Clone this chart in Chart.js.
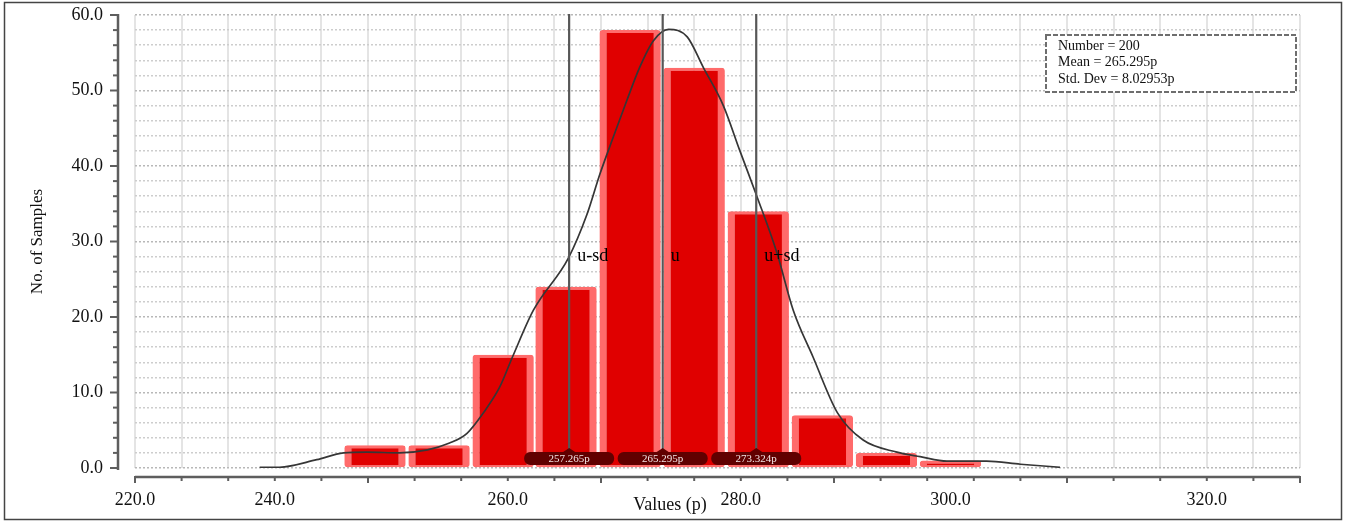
<!DOCTYPE html>
<html>
<head>
<meta charset="utf-8">
<script src="https://cdn.jsdelivr.net/npm/chart.js@4.4.1/dist/chart.umd.min.js"></script>
<style>
  html, body { margin: 0; padding: 0; background: #fff; }
</style>
</head>
<body>
<canvas id="histCanvas" width="1345" height="522"></canvas>
<script>
// histogram bins: centre of each bin and the number of samples in it
var binCenters = [240.6, 246.1, 251.6, 257.0, 262.5, 268.0, 273.5, 279.0, 284.5, 290.0];
var binCounts  = [3, 3, 15, 24, 58, 53, 34, 7, 2, 1];

// fitted density curve
var curveX = [230.7, 232.4, 235.6, 237.9, 239.9, 242.7, 245.1, 247.0, 248.5, 249.9, 251.3, 252.4,
              254.2, 257.2, 258.8, 259.9, 261.0, 262.2, 263.3, 264.5, 265.8, 267.4, 268.8, 270.5,
              271.9, 273.4, 275.1, 276.5, 278.2, 280.3, 282.5, 285.4, 287.4, 289.7, 293.1, 296.0, 299.4];
var curveY = [0.1, 0.1, 1.1, 2.0, 2.1, 2.0, 2.4, 3.3, 4.6, 7.3, 10.7, 14.7,
              20.9, 27.8, 33.6, 38.9, 43.6, 48.6, 53.0, 56.6, 58.1, 57.1, 53.0, 48.0,
              42.1, 35.9, 28.5, 20.9, 14.7, 7.3, 3.7, 2.1, 1.5, 0.9, 0.9, 0.5, 0.1];

// mean and +/- one standard deviation
var markerValues = [257.265, 265.295, 273.324];
var markerNames  = ['u-sd', 'u', 'u+sd'];
var markerTexts  = ['257.265p', '265.295p', '273.324p'];

// summary box
var statLines = ['Number = 200', 'Mean = 265.295p', 'Std. Dev = 8.02953p'];

// axis ticks
var xTickLabels = { 220: '220.0', 232: '240.0', 252: '260.0', 272: '280.0', 290: '300.0', 312: '320.0' };
var xTickValues = [];
for (var i = 220; i <= 320; i += 2) xTickValues.push(i);
var yTickValues = [];
for (var j = 0; j <= 60; j += 2) yTickValues.push(j);

var serif = '"Liberation Serif", "Times New Roman", serif';
Chart.defaults.font.family = serif;
Chart.defaults.color = '#111';

var barPoints = binCenters.map(function (x, k) { return { x: x, y: binCounts[k] }; });
var curvePoints = curveX.map(function (x, k) { return { x: x, y: curveY[k] }; });

function strokeLine(c, x1, y1, x2, y2) {
  c.beginPath();
  c.moveTo(x1, y1);
  c.lineTo(x2, y2);
  c.stroke();
}

// axis lines, mean/sd lines, value tags, stats box and frame
var decorPlugin = {
  id: 'decor',
  afterDraw: function (chart) {
    var c = chart.ctx, a = chart.chartArea;
    var xs = chart.scales.x, ys = chart.scales.y;
    c.save();

    // y axis
    var axX = a.left - 17;
    c.strokeStyle = '#5e5e5e';
    c.lineWidth = 2.5;
    strokeLine(c, axX, a.top - 1, axX, a.bottom + 2);
    c.lineWidth = 2;
    ys.ticks.forEach(function (t) {
      var py = ys.getPixelForValue(t.value);
      var len = t.value % 10 === 0 ? 8 : 5;
      strokeLine(c, axX - len, py, axX, py);
    });

    // x axis
    var axY = a.bottom + 9;
    c.lineWidth = 2.5;
    strokeLine(c, a.left, axY, a.right, axY);
    c.lineWidth = 2;
    xs.ticks.forEach(function (t) {
      if ((t.value - 220) % 4 !== 0) return;
      var px = xs.getPixelForValue(t.value);
      var len = (t.value - 220) % 20 === 0 ? 6 : 4;
      strokeLine(c, px, axY - 1, px, axY + len);
    });

    // mean and sd lines with their names
    c.strokeStyle = '#575757';
    c.lineWidth = 2.2;
    c.font = '18px ' + serif;
    c.fillStyle = '#000';
    c.textAlign = 'left';
    c.textBaseline = 'middle';
    markerValues.forEach(function (v, k) {
      var px = xs.getPixelForValue(v);
      strokeLine(c, px, a.top - 1, px, a.bottom - 14);
      c.fillText(markerNames[k], px + 8, ys.getPixelForValue(28));
    });

    // value tags at the foot of each line
    c.font = '11px ' + serif;
    c.textAlign = 'center';
    markerValues.forEach(function (v, k) {
      var px = xs.getPixelForValue(v);
      var top = a.bottom - 16, w = 90, h = 13, r = 6;
      c.fillStyle = '#610000';
      c.beginPath();
      c.moveTo(px - w / 2 + r, top);
      c.lineTo(px - 6, top);
      c.lineTo(px, top - 4);
      c.lineTo(px + 6, top);
      c.lineTo(px + w / 2 - r, top);
      c.arcTo(px + w / 2, top, px + w / 2, top + r, r);
      c.arcTo(px + w / 2, top + h, px + w / 2 - r, top + h, r);
      c.lineTo(px - w / 2 + r, top + h);
      c.arcTo(px - w / 2, top + h, px - w / 2, top + h - r, r);
      c.arcTo(px - w / 2, top, px - w / 2 + r, top, r);
      c.closePath();
      c.fill();
      c.fillStyle = '#f4e4e4';
      c.fillText(markerTexts[k], px, top + h / 2 + 0.5);
    });

    // stats box
    var bx = a.right - 254, by = a.top + 20, bw = 250, bh = 57;
    c.fillStyle = '#fff';
    c.fillRect(bx, by, bw, bh);
    c.setLineDash([5, 2]);
    c.strokeStyle = '#6e6e6e';
    c.lineWidth = 2;
    c.strokeRect(bx, by, bw, bh);
    c.setLineDash([]);
    c.fillStyle = '#111';
    c.font = '14px ' + serif;
    c.textAlign = 'left';
    statLines.forEach(function (s, k) {
      c.fillText(s, bx + 12, by + 11 + k * 16.5);
    });

    // x axis title
    c.font = '18px ' + serif;
    c.textAlign = 'center';
    c.fillText('Values (p)', a.left + 535, a.bottom + 37);

    // outer frame
    c.strokeStyle = '#444';
    c.lineWidth = 1.5;
    c.strokeRect(4.5, 2.5, 1337, 517);
    c.restore();
  }
};

var ctx = document.getElementById('histCanvas').getContext('2d');
var chart = new Chart(ctx, {
  data: {
    datasets: [{
      type: 'line',
      label: 'Fit',
      data: curvePoints,
      xAxisID: 'x',
      yAxisID: 'y',
      borderColor: '#363636',
      borderWidth: 1.7,
      pointRadius: 0,
      cubicInterpolationMode: 'monotone',
      order: 0
    }, {
      type: 'bar',
      label: 'No. of Samples',
      data: barPoints,
      xAxisID: 'xb',
      yAxisID: 'y',
      grouped: false,
      backgroundColor: '#e00000',
      borderColor: '#ff6b6b',
      borderWidth: { left: 7, right: 7, top: 3, bottom: 2 },
      borderSkipped: false,
      borderRadius: 3,
      barPercentage: 1,
      categoryPercentage: 0.975,
      order: 1
    }]
  },
  options: {
    responsive: false,
    animation: false,
    layout: { padding: { top: 15, right: 45, bottom: 0, left: 0 } },
    plugins: {
      legend: { display: false },
      tooltip: { enabled: false }
    },
    scales: {
      x: {
        type: 'linear',
        position: 'bottom',
        min: 220,
        max: 320,
        afterBuildTicks: function (s) { s.ticks = xTickValues.map(function (v) { return { value: v }; }); },
        afterFit: function (s) { s.height = 54; },
        grid: {
          drawTicks: false,
          lineWidth: 2,
          color: function (c) {
            return c.tick && (c.tick.value - 220) % 4 === 0 ? '#e4e4e4' : 'rgba(0,0,0,0)';
          }
        },
        border: { display: false },
        ticks: {
          autoSkip: false,
          maxRotation: 0,
          padding: 21,
          font: { size: 18 },
          callback: function (v) { return xTickLabels[v] || ''; }
        }
      },
      // bars get their own hidden axis so the bar width follows the bin spacing
      xb: {
        type: 'linear',
        position: 'bottom',
        display: false,
        offset: false,
        min: 220,
        max: 320,
        afterBuildTicks: function (s) { s.ticks = [{ value: 220 }, { value: 320 }]; }
      },
      y: {
        type: 'linear',
        min: 0,
        max: 60,
        afterBuildTicks: function (s) { s.ticks = yTickValues.map(function (v) { return { value: v }; }); },
        afterFit: function (s) { s.width = 135; },
        grid: {
          drawTicks: true,
          tickLength: 29,
          tickColor: 'rgba(0,0,0,0)',
          lineWidth: 1.5,
          color: function (c) {
            return c.tick && c.tick.value % 10 === 0 ? '#b8b8b8' : '#cdcdcd';
          }
        },
        border: { display: false, dash: [2, 2] },
        ticks: {
          autoSkip: false,
          padding: 3,
          font: { size: 18 },
          callback: function (v) { return v % 10 === 0 ? v.toFixed(1) : ''; }
        },
        title: {
          display: true,
          text: 'No. of Samples',
          font: { size: 17 },
          padding: { top: 27, bottom: 0 }
        }
      }
    }
  },
  plugins: [decorPlugin]
});
</script>
</body>
</html>
